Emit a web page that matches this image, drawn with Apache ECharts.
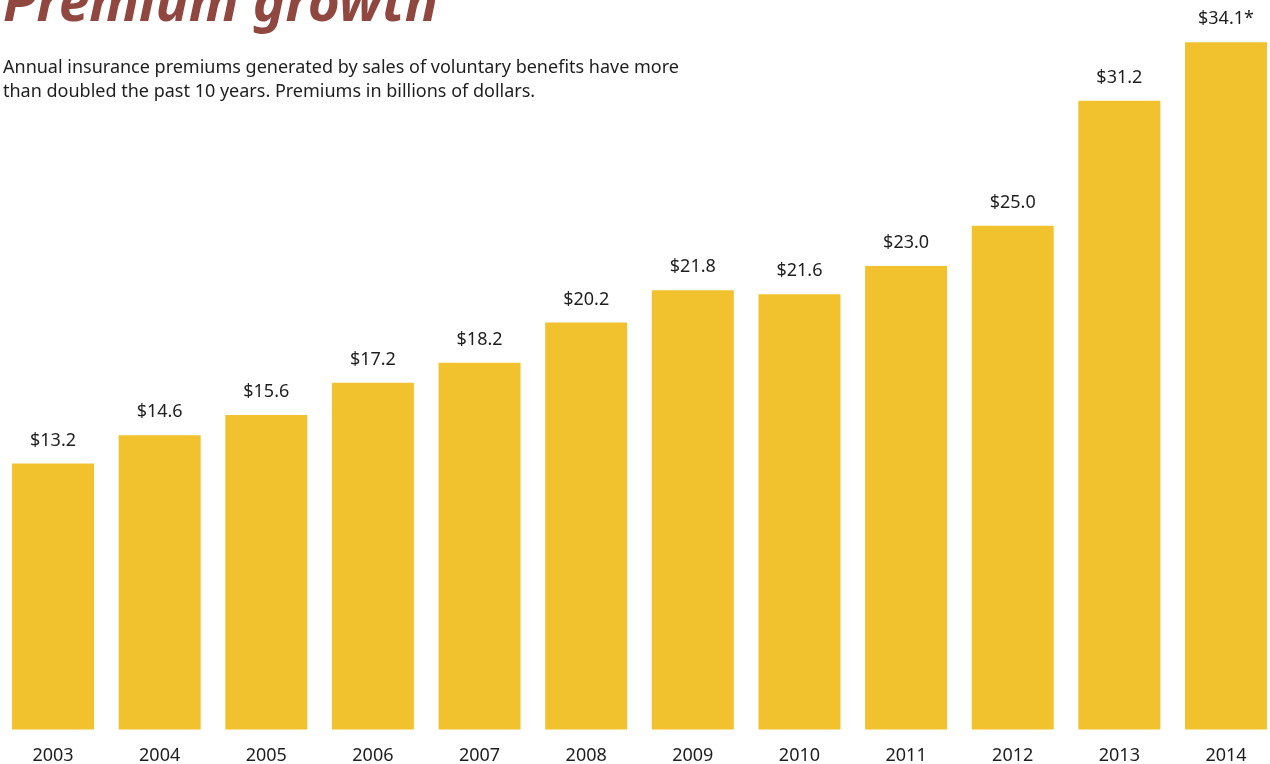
<!DOCTYPE html>
<html>
<head>
<meta charset="utf-8">
<style>
  html, body { margin: 0; padding: 0; background: #ffffff; }
  #chart { width: 1270px; height: 764px; }
</style>
<script src="https://cdn.jsdelivr.net/npm/echarts@6/dist/echarts.min.js"></script>
</head>
<body>
<div id="chart"></div>
<script>
// Annual premiums from voluntary benefit sales, billions of dollars
const years = ['2003', '2004', '2005', '2006', '2007', '2008', '2009', '2010', '2011', '2012', '2013', '2014'];
const premiums = [13.2, 14.6, 15.6, 17.2, 18.2, 20.2, 21.8, 21.6, 23.0, 25.0, 31.2, 34.1];
// 2014 figure carries a footnote marker
const footnoteYears = ['2014'];

const FONT = '"Noto Sans", "Open Sans", sans-serif';

const chart = echarts.init(document.getElementById('chart'), null, { renderer: 'canvas' });

chart.setOption({
  backgroundColor: '#ffffff',
  animation: false,
  title: [
    {
      text: 'Premium growth',
      left: 3,
      top: -22,
      padding: 0,
      textStyle: {
        fontFamily: FONT,
        fontStyle: 'italic',
        fontWeight: 'bold',
        fontSize: 55,
        color: '#8f4740'
      }
    },
    {
      text: 'Annual insurance premiums generated by sales of voluntary benefits have more\nthan doubled the past 10 years. Premiums in billions of dollars.',
      left: 3,
      top: 56,
      padding: 0,
      textStyle: {
        fontFamily: FONT,
        fontWeight: 'normal',
        fontSize: 18,
        lineHeight: 24,
        color: '#1e1e1e'
      }
    }
  ],
  grid: {
    left: -0.3,
    width: 1279.6,
    top: 4,
    bottom: 34.5,
    containLabel: false,
    outerBoundsMode: 'none'
  },
  xAxis: {
    type: 'category',
    data: years,
    axisLine: { show: false },
    axisTick: { show: false },
    axisLabel: {
      fontFamily: FONT,
      fontSize: 18,
      color: '#1e1e1e',
      margin: 17
    }
  },
  yAxis: {
    type: 'value',
    min: 0,
    max: 36,
    show: false,
    splitLine: { show: false }
  },
  series: [
    {
      type: 'bar',
      data: premiums,
      barWidth: 82,
      itemStyle: { color: '#f2c22e' },
      label: {
        show: true,
        position: 'top',
        distance: 14,
        fontFamily: FONT,
        fontSize: 18,
        color: '#1e1e1e',
        formatter: function (p) {
          const mark = footnoteYears.indexOf(p.name) >= 0 ? '*' : '';
          return '$' + p.value.toFixed(1) + mark;
        }
      }
    }
  ]
});
</script>
</body>
</html>
